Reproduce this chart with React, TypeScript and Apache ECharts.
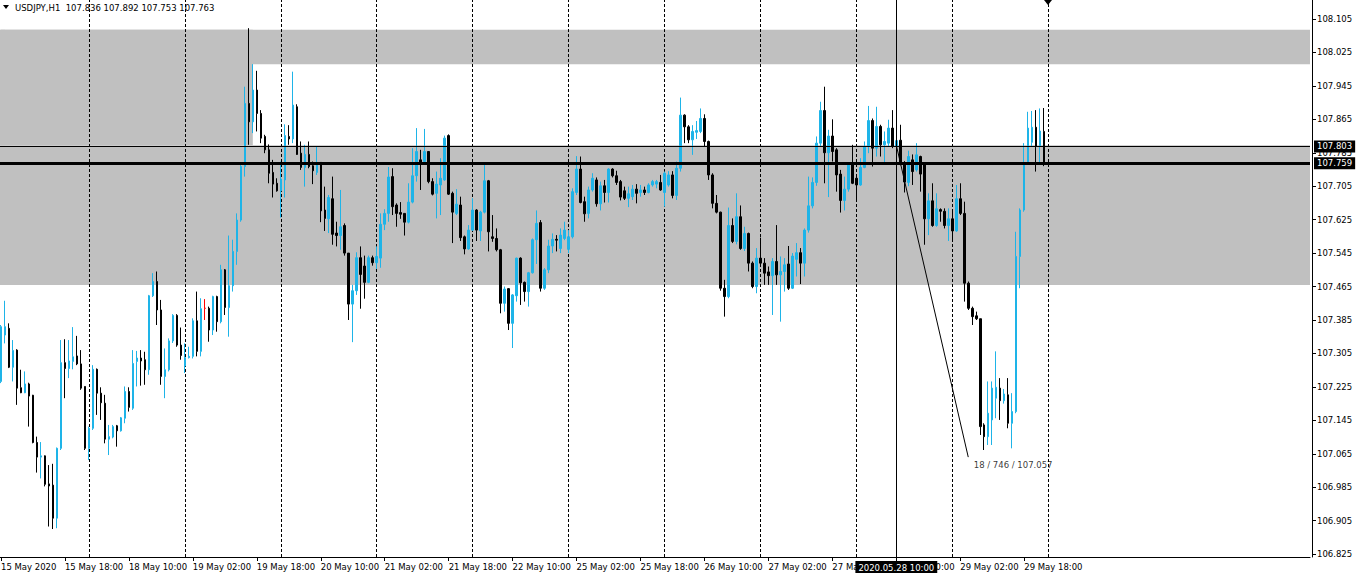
import React, { useEffect, useRef } from "react";
import * as echarts from "echarts";

// ---------- data ----------
const symbolName = "USDJPY,H1";
const tickLabels = [
  "15 May 2020", "15 May 18:00", "18 May 10:00", "19 May 02:00", "19 May 18:00",
  "20 May 10:00", "21 May 02:00", "21 May 18:00", "22 May 10:00", "25 May 02:00",
  "25 May 18:00", "26 May 10:00", "27 May 02:00", "27 May 18:00", "28 May 10:00",
  "29 May 02:00", "29 May 18:00",
];
const priceTicks = [
  108.105, 108.025, 107.945, 107.865, 107.785, 107.705, 107.625, 107.545, 107.465,
  107.385, 107.305, 107.225, 107.145, 107.065, 106.985, 106.905, 106.825,
];
// bar index of each 00:00 day separator
const daySeparators = [22, 46, 70, 94, 118, 142, 166, 190, 214, 238, 262];

const opens = [
  107.238, 107.349, 107.365, 107.272, 107.313, 107.223, 107.211, 107.232, 107.205, 107.092,
  107.057, 107.060, 106.993, 106.990, 106.911, 107.078, 107.283, 107.269, 107.286, 107.299,
  107.280, 107.226, 107.078, 107.126, 107.267, 107.210, 107.186, 107.100, 107.105, 107.132,
  107.120, 107.150, 107.214, 107.174, 107.286, 107.294, 107.290, 107.266, 107.443, 107.477,
  107.409, 107.250, 107.266, 107.335, 107.396, 107.325, 107.275, 107.295, 107.298, 107.383,
  107.310, 107.413, 107.413, 107.361, 107.441, 107.381, 107.505, 107.415, 107.467, 107.549,
  107.624, 107.752, 107.903, 107.859, 107.935, 107.879, 107.824, 107.792, 107.738, 107.712,
  107.694, 107.720, 107.824, 107.818, 107.895, 107.784, 107.750, 107.781, 107.754, 107.738,
  107.762, 107.648, 107.627, 107.675, 107.593, 107.587, 107.611, 107.545, 107.423, 107.455,
  107.534, 107.514, 107.475, 107.534, 107.522, 107.533, 107.614, 107.640, 107.728, 107.660,
  107.642, 107.640, 107.619, 107.667, 107.730, 107.768, 107.764, 107.788, 107.716, 107.688,
  107.708, 107.720, 107.826, 107.688, 107.640, 107.660, 107.584, 107.555, 107.600, 107.648,
  107.598, 107.643, 107.718, 107.584, 107.580, 107.553, 107.425, 107.460, 107.377, 107.443,
  107.533, 107.475, 107.453, 107.498, 107.577, 107.618, 107.461, 107.505, 107.562, 107.578,
  107.556, 107.580, 107.554, 107.584, 107.690, 107.746, 107.668, 107.640, 107.696, 107.720,
  107.663, 107.706, 107.690, 107.746, 107.730, 107.716, 107.694, 107.676, 107.680, 107.698,
  107.690, 107.696, 107.690, 107.708, 107.710, 107.714, 107.690, 107.708, 107.732, 107.683,
  107.748, 107.875, 107.847, 107.816, 107.834, 107.836, 107.867, 107.812, 107.732, 107.664,
  107.643, 107.461, 107.441, 107.611, 107.573, 107.632, 107.556, 107.592, 107.521, 107.465,
  107.533, 107.521, 107.500, 107.491, 107.525, 107.493, 107.501, 107.519, 107.461, 107.530,
  107.546, 107.521, 107.600, 107.658, 107.714, 107.808, 107.886, 107.785, 107.825, 107.792,
  107.734, 107.671, 107.698, 107.756, 107.724, 107.708, 107.750, 107.800, 107.862, 107.796,
  107.848, 107.804, 107.808, 107.844, 107.800, 107.815, 107.760, 107.714, 107.768, 107.744,
  107.776, 107.756, 107.627, 107.670, 107.611, 107.649, 107.645, 107.611, 107.627, 107.598,
  107.675, 107.640, 107.473, 107.413, 107.395, 107.388, 107.134, 107.106, 107.146, 107.198,
  107.222, 107.192, 107.206, 107.138, 107.166, 107.537, 107.648, 107.760, 107.810, 107.846,
  107.800, 107.836,
];
const highs = [
  107.373, 107.431, 107.377, 107.337, 107.315, 107.266, 107.262, 107.235, 107.206, 107.106,
  107.093, 107.061, 107.038, 107.041, 107.080, 107.337, 107.339, 107.337, 107.368, 107.347,
  107.313, 107.226, 107.130, 107.277, 107.269, 107.224, 107.206, 107.134, 107.134, 107.134,
  107.153, 107.226, 107.224, 107.313, 107.311, 107.313, 107.309, 107.445, 107.497, 107.501,
  107.433, 107.317, 107.341, 107.399, 107.399, 107.367, 107.329, 107.321, 107.389, 107.453,
  107.437, 107.435, 107.417, 107.443, 107.443, 107.517, 107.507, 107.587, 107.577, 107.640,
  107.756, 107.943, 108.083, 107.997, 107.981, 107.887, 107.828, 107.805, 107.768, 107.724,
  107.764, 107.853, 107.851, 107.979, 107.901, 107.812, 107.804, 107.812, 107.764, 107.800,
  107.762, 107.704, 107.684, 107.728, 107.620, 107.696, 107.616, 107.545, 107.469, 107.547,
  107.561, 107.539, 107.539, 107.539, 107.561, 107.640, 107.650, 107.751, 107.748, 107.664,
  107.667, 107.640, 107.712, 107.796, 107.844, 107.792, 107.842, 107.789, 107.724, 107.740,
  107.772, 107.826, 107.829, 107.692, 107.698, 107.680, 107.587, 107.612, 107.676, 107.650,
  107.646, 107.757, 107.720, 107.636, 107.604, 107.555, 107.465, 107.461, 107.447, 107.534,
  107.535, 107.477, 107.500, 107.580, 107.647, 107.624, 107.509, 107.577, 107.592, 107.588,
  107.604, 107.620, 107.600, 107.700, 107.777, 107.776, 107.680, 107.704, 107.736, 107.726,
  107.716, 107.720, 107.748, 107.748, 107.742, 107.720, 107.704, 107.704, 107.708, 107.710,
  107.708, 107.704, 107.712, 107.720, 107.720, 107.732, 107.740, 107.741, 107.741, 107.764,
  107.917, 107.877, 107.851, 107.851, 107.861, 107.891, 107.877, 107.814, 107.736, 107.684,
  107.644, 107.481, 107.654, 107.628, 107.688, 107.659, 107.608, 107.594, 107.525, 107.557,
  107.582, 107.533, 107.513, 107.533, 107.612, 107.537, 107.533, 107.562, 107.545, 107.569,
  107.557, 107.604, 107.728, 107.726, 107.824, 107.907, 107.943, 107.840, 107.865, 107.796,
  107.744, 107.728, 107.758, 107.804, 107.728, 107.772, 107.812, 107.897, 107.867, 107.895,
  107.852, 107.836, 107.864, 107.887, 107.867, 107.852, 107.765, 107.790, 107.781, 107.808,
  107.778, 107.760, 107.688, 107.712, 107.688, 107.652, 107.652, 107.652, 107.644, 107.708,
  107.712, 107.668, 107.477, 107.417, 107.405, 107.388, 107.138, 107.238, 107.238, 107.310,
  107.246, 107.220, 107.246, 107.210, 107.596, 107.652, 107.808, 107.883, 107.885, 107.887,
  107.891, 107.892,
];
const lows = [
  107.234, 107.329, 107.270, 107.238, 107.182, 107.210, 107.210, 107.130, 107.090, 107.020,
  107.006, 106.987, 106.891, 106.885, 106.887, 107.074, 107.198, 107.246, 107.267, 107.277,
  107.218, 107.074, 107.050, 107.122, 107.158, 107.146, 107.090, 107.062, 107.102, 107.082,
  107.118, 107.138, 107.166, 107.170, 107.226, 107.228, 107.230, 107.254, 107.440, 107.373,
  107.230, 107.198, 107.262, 107.330, 107.321, 107.290, 107.258, 107.293, 107.293, 107.298,
  107.298, 107.385, 107.333, 107.349, 107.357, 107.377, 107.397, 107.345, 107.453, 107.517,
  107.620, 107.728, 107.804, 107.832, 107.836, 107.808, 107.784, 107.712, 107.678, 107.692,
  107.630, 107.678, 107.804, 107.808, 107.780, 107.744, 107.704, 107.748, 107.710, 107.732,
  107.619, 107.598, 107.593, 107.565, 107.561, 107.553, 107.539, 107.385, 107.332, 107.445,
  107.412, 107.436, 107.473, 107.515, 107.507, 107.510, 107.600, 107.620, 107.636, 107.608,
  107.627, 107.587, 107.616, 107.664, 107.716, 107.696, 107.756, 107.712, 107.683, 107.628,
  107.636, 107.718, 107.684, 107.569, 107.636, 107.574, 107.542, 107.553, 107.598, 107.574,
  107.574, 107.640, 107.549, 107.572, 107.549, 107.401, 107.405, 107.361, 107.318, 107.429,
  107.421, 107.429, 107.417, 107.496, 107.519, 107.453, 107.457, 107.497, 107.545, 107.549,
  107.545, 107.576, 107.545, 107.580, 107.684, 107.664, 107.620, 107.628, 107.692, 107.656,
  107.647, 107.666, 107.666, 107.726, 107.708, 107.671, 107.672, 107.655, 107.672, 107.664,
  107.680, 107.684, 107.688, 107.704, 107.700, 107.694, 107.656, 107.704, 107.676, 107.672,
  107.740, 107.808, 107.808, 107.780, 107.818, 107.832, 107.800, 107.720, 107.652, 107.640,
  107.455, 107.393, 107.437, 107.569, 107.566, 107.553, 107.550, 107.501, 107.461, 107.449,
  107.515, 107.469, 107.469, 107.397, 107.469, 107.381, 107.453, 107.457, 107.459, 107.489,
  107.471, 107.489, 107.594, 107.652, 107.706, 107.800, 107.712, 107.679, 107.764, 107.692,
  107.642, 107.647, 107.692, 107.710, 107.674, 107.706, 107.748, 107.784, 107.752, 107.776,
  107.776, 107.756, 107.800, 107.796, 107.793, 107.755, 107.690, 107.705, 107.708, 107.740,
  107.692, 107.565, 107.588, 107.608, 107.608, 107.620, 107.604, 107.574, 107.573, 107.596,
  107.636, 107.429, 107.409, 107.373, 107.385, 107.110, 107.074, 107.086, 107.086, 107.150,
  107.146, 107.185, 107.126, 107.078, 107.162, 107.461, 107.644, 107.756, 107.800, 107.740,
  107.756, 107.753,
];
const closes = [
  107.369, 107.369, 107.272, 107.312, 107.222, 107.211, 107.232, 107.203, 107.092, 107.057,
  107.060, 106.992, 106.988, 106.911, 107.078, 107.283, 107.269, 107.287, 107.297, 107.280,
  107.222, 107.078, 107.126, 107.267, 107.210, 107.187, 107.100, 107.106, 107.130, 107.120,
  107.151, 107.214, 107.176, 107.281, 107.294, 107.287, 107.266, 107.443, 107.477, 107.409,
  107.250, 107.266, 107.335, 107.396, 107.325, 107.300, 107.295, 107.298, 107.383, 107.310,
  107.412, 107.413, 107.361, 107.441, 107.381, 107.505, 107.415, 107.467, 107.549, 107.624,
  107.752, 107.903, 107.859, 107.935, 107.879, 107.820, 107.792, 107.736, 107.710, 107.694,
  107.722, 107.826, 107.818, 107.899, 107.781, 107.750, 107.781, 107.752, 107.742, 107.762,
  107.646, 107.628, 107.678, 107.590, 107.587, 107.608, 107.545, 107.423, 107.455, 107.534,
  107.494, 107.475, 107.534, 107.522, 107.537, 107.614, 107.640, 107.727, 107.656, 107.640,
  107.638, 107.619, 107.667, 107.730, 107.788, 107.757, 107.788, 107.716, 107.686, 107.710,
  107.724, 107.820, 107.686, 107.643, 107.662, 107.582, 107.555, 107.600, 107.648, 107.600,
  107.643, 107.718, 107.596, 107.580, 107.553, 107.425, 107.459, 107.377, 107.445, 107.533,
  107.474, 107.453, 107.498, 107.577, 107.616, 107.461, 107.505, 107.562, 107.578, 107.576,
  107.588, 107.600, 107.584, 107.692, 107.746, 107.666, 107.639, 107.696, 107.724, 107.663,
  107.706, 107.690, 107.746, 107.730, 107.714, 107.679, 107.676, 107.687, 107.698, 107.688,
  107.696, 107.690, 107.708, 107.716, 107.716, 107.696, 107.736, 107.732, 107.683, 107.748,
  107.875, 107.847, 107.816, 107.836, 107.838, 107.867, 107.812, 107.732, 107.664, 107.643,
  107.461, 107.441, 107.611, 107.573, 107.632, 107.556, 107.592, 107.521, 107.465, 107.533,
  107.521, 107.497, 107.491, 107.525, 107.493, 107.501, 107.517, 107.461, 107.538, 107.546,
  107.521, 107.600, 107.658, 107.714, 107.808, 107.886, 107.785, 107.825, 107.788, 107.732,
  107.671, 107.698, 107.756, 107.712, 107.708, 107.750, 107.800, 107.862, 107.796, 107.848,
  107.804, 107.812, 107.844, 107.800, 107.814, 107.760, 107.715, 107.776, 107.740, 107.780,
  107.734, 107.627, 107.670, 107.611, 107.651, 107.645, 107.611, 107.627, 107.598, 107.675,
  107.640, 107.473, 107.413, 107.393, 107.388, 107.130, 107.106, 107.162, 107.222, 107.224,
  107.192, 107.208, 107.138, 107.166, 107.537, 107.648, 107.760, 107.844, 107.846, 107.800,
  107.837, 107.763,
];

// objects on the chart
const zoneTop = [108.079, 107.997];      // full-width rectangle
const zoneMain = [107.803, 107.469];     // full-width rectangle
const zoneLeft = [108.079, 107.803];     // rectangle over the first bars
const zoneLeftEndBar = 63;
const bidPrice = 107.759;
const crossPrice = 107.803;
const crossBar = 224;
const crossTime = "2020.05.28 10:00";
const measureBar = 242;
const measurePrice = 107.057;
const measureText = "18 / 746 / 107.057";

// ---------- layout / style ----------
const SLOTS = 328;
const SHIFT = 2; // the chart div starts 2px left of the page so that bar i sits at x = 4i
const CYAN = "#1EB4E8";
const GRAY = "#C0C0C0";
const FONT = '"DejaVu Sans", Verdana, sans-serif';
const FS = 8.5;

const categories = Array.from({ length: SLOTS }, (_, i) => String(i));
const showTick = (i: number) => i % 16 === 0 && i <= 256;
const last = opens.length - 1;
const headerText = `${symbolName}  ${opens[last].toFixed(3)} ${highs[last].toFixed(3)} ${lows[last].toFixed(3)} ${closes[last].toFixed(3)}`;

const boxLabel = (text: string, position: string) => ({
  show: true,
  position,
  formatter: () => text,
  color: "#fff",
  backgroundColor: "#000",
  padding: [2, 3, 1, 3],
  fontFamily: FONT,
  fontSize: FS,
  distance: 4,
});

const staticGraphics = [
  { id: "hdrTri", type: "polygon", z: 100, shape: { points: [[3 + SHIFT, 5], [9 + SHIFT, 5], [6 + SHIFT, 9]] }, style: { fill: "#000" } },
  {
    id: "hdrText",
    type: "text",
    z: 100,
    x: 15 + SHIFT,
    y: 7.5,
    style: { text: headerText, fill: "#000", fontFamily: FONT, fontSize: FS, verticalAlign: "middle" },
  },
  { id: "shiftTri", type: "polygon", z: 100, shape: { points: [[1044 + SHIFT, 0], [1052 + SHIFT, 0], [1048 + SHIFT, 5]] }, style: { fill: "#000" } },
];

export default function App() {
  const ref = useRef<HTMLDivElement>(null);
  useEffect(() => {
    const chart = echarts.init(ref.current!, null, { renderer: "svg" });
    const candleData = opens.map((o, i) => [o, closes[i], lows[i], highs[i]]);
    chart.setOption({
      animation: false,
      backgroundColor: "#fff",
      grid: { left: 0, top: 0, width: SLOTS * 4, height: 557, containLabel: false },
      xAxis: {
        type: "category",
        data: categories,
        boundaryGap: true,
        axisLine: { show: true, onZero: false, lineStyle: { color: "#000", width: 1 } },
        axisTick: { show: true, alignWithLabel: true, interval: showTick, length: 4, lineStyle: { color: "#000" } },
        axisLabel: {
          interval: showTick,
          formatter: (_v: string, i: number) => tickLabels[i / 16] ?? "",
          align: "left",
          color: "#000",
          fontFamily: FONT,
          fontSize: FS,
          margin: 5,
        },
        splitLine: { show: false },
      },
      yAxis: {
        type: "value",
        position: "right",
        offset: 2,
        min: 106.8181,
        max: 108.1504,
        axisLine: { show: true, onZero: false, lineStyle: { color: "#000", width: 1 } },
        axisTick: { show: true, customValues: priceTicks, length: 4, lineStyle: { color: "#000" } },
        axisLabel: {
          customValues: priceTicks,
          formatter: (v: number) => v.toFixed(3),
          color: "#000",
          fontFamily: FONT,
          fontSize: FS,
          margin: 5,
        },
        splitLine: { show: false },
      },
      series: [
        {
          type: "line",
          data: [],
          z: 1,
          silent: true,
          markLine: {
            z: 1,
            silent: true,
            symbol: ["none", "none"],
            label: { show: false },
            lineStyle: { color: "#000", width: 1, type: [3, 2] },
            data: daySeparators.map((i) => ({ xAxis: i })),
          },
        },
        {
          type: "candlestick",
          z: 3,
          data: candleData,
          barWidth: 2,
          itemStyle: {
            color: CYAN,
            color0: "#000",
            borderColor: CYAN,
            borderColor0: "#000",
            borderColorDoji: "#FF0000",
            borderWidth: 1,
          },
          markArea: {
            z: 0,
            silent: true,
            itemStyle: { color: GRAY, opacity: 1 },
            data: [
              [{ xAxis: 0, yAxis: zoneLeft[0] }, { xAxis: zoneLeftEndBar, yAxis: zoneLeft[1] }],
              [{ yAxis: zoneTop[0] }, { yAxis: zoneTop[1] }],
              [{ yAxis: zoneMain[0] }, { yAxis: zoneMain[1] }],
            ],
          },
          markLine: {
            z: 5,
            silent: true,
            symbol: ["none", "none"],
            data: [
              { yAxis: bidPrice, lineStyle: { width: 3, color: "#000", type: "solid" }, label: boxLabel(bidPrice.toFixed(3), "end") },
              { yAxis: crossPrice, lineStyle: { width: 1, color: "#000", type: "solid" }, label: boxLabel(crossPrice.toFixed(3), "end") },
              { xAxis: crossBar, lineStyle: { width: 1, color: "#000", type: "solid" }, label: boxLabel(crossTime, "start") },
              [
                { coord: [crossBar, crossPrice], lineStyle: { width: 1, color: "#000", type: "solid" }, label: { show: false } },
                { coord: [measureBar, measurePrice] },
              ],
            ],
          },
        },
        {
          type: "scatter",
          z: 6,
          silent: true,
          symbolSize: 1,
          itemStyle: { color: "rgba(0,0,0,0)" },
          data: [[measureBar, measurePrice]],
          label: {
            show: true,
            position: "right",
            distance: 5,
            offset: [0, 8],
            formatter: () => measureText,
            color: "#000",
            fontFamily: FONT,
            fontSize: FS,
          },
        },
      ],
      graphic: staticGraphics,
    });
    // fill the left rectangle all the way to the window's left edge
    const yTop = chart.convertToPixel({ yAxisIndex: 0 }, zoneLeft[0]) as number;
    const yBot = chart.convertToPixel({ yAxisIndex: 0 }, zoneLeft[1]) as number;
    const xStart = chart.convertToPixel({ xAxisIndex: 0 }, 0) as number;
    chart.setOption({
      graphic: [
        ...staticGraphics,
        {
          id: "leftEdgeFill",
          type: "rect",
          z: 0,
          silent: true,
          shape: { x: 0, y: yTop, width: xStart + 4, height: yBot - yTop },
          style: { fill: GRAY },
        },
      ],
    });
    return () => chart.dispose();
  }, []);
  return (
    <div
      ref={ref}
      style={{ position: "fixed", left: -SHIFT, top: 0, width: 1358 + SHIFT, height: 577, background: "#fff" }}
    />
  );
}
